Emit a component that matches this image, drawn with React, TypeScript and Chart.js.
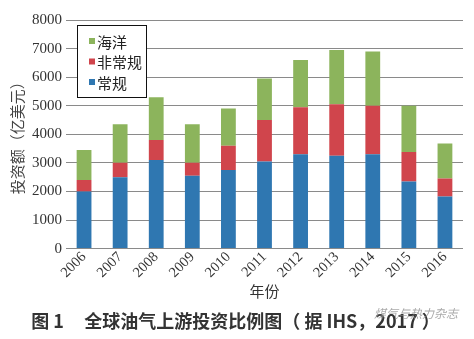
import React, { useEffect, useRef } from "react";
import { Chart, registerables } from "chart.js";

Chart.register(...registerables);

const years = ["2006", "2007", "2008", "2009", "2010", "2011", "2012", "2013", "2014", "2015", "2016"];
const conventional = [2000, 2500, 3100, 2550, 2750, 3050, 3300, 3250, 3300, 2350, 1820];
const unconventional = [400, 500, 700, 450, 850, 1450, 1650, 1800, 1700, 1030, 630];
const offshore = [1050, 1350, 1500, 1350, 1300, 1450, 1650, 1900, 1900, 1620, 1230];
const seriesNames = ["常规", "非常规", "海洋"];
const seriesColors = ["#2f77b1", "#d0454c", "#8cb45c"];
const yTitle = "投资额（亿美元）";
const xTitle = "年份";
const caption = "图 1     全球油气上游投资比例图（ 据 IHS，2017 ）";
const watermark = "煤气与热力杂志";

const SERIF = "'Liberation Serif', 'DejaVu Serif', serif";
const CJK = "'Noto Sans CJK SC', sans-serif";

const boxLegend = {
  id: "boxLegend",
  afterDatasetsDraw(chart: any) {
    const { ctx, chartArea } = chart;
    const left = chartArea.left + 11;
    const top = chartArea.top + 5;
    const w = 69;
    const h = 72;
    ctx.save();
    ctx.fillStyle = "#ffffff";
    ctx.fillRect(left, top, w, h);
    ctx.strokeStyle = "#111111";
    ctx.lineWidth = 1;
    ctx.strokeRect(left + 0.5, top + 0.5, w, h);
    const ds = chart.data.datasets;
    ctx.font = "15px " + CJK;
    ctx.textBaseline = "middle";
    ctx.textAlign = "left";
    for (let k = 0; k < ds.length; k++) {
      const d = ds[ds.length - 1 - k];
      const cy = top + 16 + k * 20.5;
      ctx.fillStyle = d.backgroundColor;
      ctx.fillRect(left + 12, cy - 3, 6, 6);
      ctx.fillStyle = "#222222";
      ctx.fillText(d.label, left + 20, cy + 1);
    }
    ctx.restore();
  },
};

export default function App() {
  const ref = useRef<HTMLCanvasElement | null>(null);
  useEffect(() => {
    document.body.style.margin = "0";
    const canvas = ref.current!;
    const chart = new Chart(canvas, {
      type: "bar",
      data: {
        labels: years,
        datasets: [
          { label: seriesNames[0], data: conventional, backgroundColor: seriesColors[0] },
          { label: seriesNames[1], data: unconventional, backgroundColor: seriesColors[1] },
          { label: seriesNames[2], data: offshore, backgroundColor: seriesColors[2] },
        ],
      },
      options: {
        responsive: false,
        animation: false,
        layout: { padding: { left: 8, right: 11, top: 20, bottom: 0 } },
        datasets: { bar: { categoryPercentage: 1, barPercentage: 0.41 } },
        plugins: {
          legend: { display: false },
          tooltip: { enabled: false },
          title: {
            display: true,
            position: "bottom",
            text: caption,
            color: "#333333",
            font: { family: CJK, size: 18, weight: "bold" },
            padding: { top: 12, bottom: 7 },
          },
        },
        scales: {
          x: {
            stacked: true,
            grid: { display: false, drawTicks: false },
            border: { display: false },
            ticks: {
              color: "#333333",
              font: { family: SERIF, size: 14.5 },
              minRotation: 45,
              maxRotation: 45,
              padding: 0,
            },
            title: {
              display: true,
              text: xTitle,
              color: "#333333",
              font: { family: CJK, size: 15, lineHeight: 1 },
              padding: { top: 2, bottom: 0 },
            },
          },
          y: {
            stacked: true,
            min: 0,
            max: 8000,
            grid: { color: "#8a8a8a", lineWidth: 1, drawTicks: false },
            border: { display: false },
            ticks: {
              stepSize: 1000,
              color: "#333333",
              font: { family: SERIF, size: 15 },
              padding: 4,
              callback: (v: any) => String(v),
            },
            title: {
              display: true,
              text: yTitle,
              color: "#444444",
              font: { family: CJK, size: 15 },
              padding: { top: 0, bottom: 2 },
            },
          },
        },
      },
      plugins: [boxLegend],
    });
    return () => chart.destroy();
  }, []);
  return (
    <div style={{ position: "relative", width: 474, height: 339, background: "#fff" }}>
      <canvas ref={ref} width={474} height={339} style={{ display: "block" }} />
      <span
        style={{
          position: "absolute",
          left: 374,
          top: 304,
          fontFamily: "'Noto Sans CJK SC', sans-serif",
          fontSize: 12,
          fontStyle: "italic",
          color: "rgba(140,140,140,0.75)",
          whiteSpace: "nowrap",
        }}
      >
        {watermark}
      </span>
    </div>
  );
}
